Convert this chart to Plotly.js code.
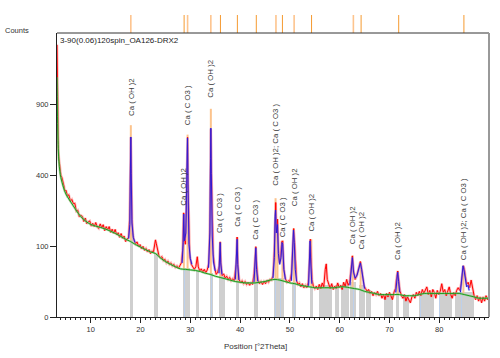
<!DOCTYPE html>
<html><head><meta charset="utf-8">
<script src="https://cdn.plot.ly/plotly-3.0.1.min.js"></script>
<style>html,body{margin:0;padding:0;background:#fff}#c{width:500px;height:358px}</style>
</head><body><div id="c"></div>
<script>
// ---------- observed counts (red) ----------
const obsX = [
3.22,3.27,3.33,3.40,3.50,3.60,3.70,3.80,3.90,4.00,
4.2,4.4,4.6,4.8,5.0,5.3,5.6,5.9,6.2,6.5,6.8,7.1,7.4,7.7,8.0,8.3,8.6,8.9,9.2,9.5,9.8,10.1,10.4,10.7,11.0,11.3,11.6,11.9,12.2,12.5,12.8,13.1,13.4,13.7,14.0,14.3,14.6,14.9,15.2,15.5,15.8,16.1,16.4,16.7,17.0,17.3,
17.6,17.8,17.95,18.05,18.15,18.3,18.5,18.7,19.0,19.3,19.6,19.9,20.2,20.5,20.8,21.1,21.4,21.7,22.0,22.3,22.6,22.85,23.0,23.15,23.4,23.7,24.0,24.3,24.6,24.9,25.2,25.5,25.8,26.1,26.4,26.7,27.0,27.3,27.6,27.9,28.2,
28.45,28.65,28.8,29.0,29.2,29.35,29.45,29.55,29.7,29.9,30.2,30.5,30.8,31.1,31.4,31.6,31.9,32.2,32.5,32.8,33.1,33.4,33.7,
33.9,34.05,34.12,34.25,34.4,34.6,34.9,35.2,35.5,35.8,36.0,36.15,36.4,36.7,37.0,37.3,37.6,37.9,38.2,38.5,38.8,39.2,39.4,39.55,39.8,40.1,40.4,40.7,41.0,41.3,41.6,41.9,42.2,42.5,42.8,43.15,43.35,43.6,43.9,44.2,44.5,44.8,45.1,45.4,45.7,46.0,46.3,46.6,
46.85,47.05,47.15,47.3,47.5,47.7,47.9,48.1,48.35,48.55,48.8,49.1,49.4,49.7,50.0,50.3,50.55,50.75,50.9,51.1,51.35,51.6,51.9,52.2,52.5,52.8,53.1,53.4,53.7,53.9,54.1,54.25,54.45,54.7,55.0,55.3,55.6,55.9,56.2,56.5,56.8,57.1,57.3,57.5,57.8,
58.1,58.4,58.7,59.0,59.3,59.6,59.9,60.2,60.5,60.8,61.1,61.4,61.7,62.0,62.3,62.55,62.8,63.1,63.4,63.7,63.95,64.15,64.35,64.6,64.9,65.2,65.5,65.8,66.1,66.4,66.7,67.0,67.3,67.6,67.9,68.2,68.5,68.8,69.1,69.4,69.7,70.0,70.3,70.6,70.9,71.2,71.45,71.65,71.85,72.1,
72.4,72.7,73.0,73.3,73.6,73.9,74.2,74.5,74.8,75.1,75.4,75.7,76.0,76.3,76.6,76.9,77.2,77.5,77.8,78.1,78.4,78.7,79.0,79.3,79.6,79.9,80.2,80.5,80.8,81.1,81.4,81.7,82.0,82.3,82.6,82.9,83.2,83.5,83.8,84.1,84.4,84.65,84.85,85.05,85.25,85.5,85.8,86.1,86.4,86.7,87.0,87.3,87.6,87.9,88.2,88.5,88.8,89.1,89.4,89.7,90.0];
const obsY = [
1470,1150,880,690,560,500,470,445,410,398,
386,352,342,315,320,292,296,266,274,255,256,222,226,199,205,201,181,194,173,180,183,164,174,162,177,161,156,172,158,169,148,162,151,162,142,153,139,152,134,141,126,138,123,130,113,121,
125,190,470,640,440,190,132,116,106,112,99,104,92,99,88,93,84,90,80,86,84,104,118,108,90,74,70,72,63,66,58,62,55,58,52,55,49,52,47,52,58,
88,215,125,105,250,560,640,350,130,72,55,49,45,50,72,50,42,46,40,45,39,44,58,
150,480,700,420,160,78,48,36,40,52,112,58,34,37,30,33,28,31,26,29,26,55,127,55,28,23,26,22,25,21,24,20,23,21,38,98,52,27,22,25,21,25,22,27,24,28,27,34,
85,235,260,150,190,90,58,68,112,115,45,29,24,26,25,38,110,155,125,52,26,21,23,18,22,17,20,17,24,58,120,70,28,19,16,19,15,21,16,23,18,45,56,28,20,
16,22,15,19,16,23,17,20,15,24,18,28,20,24,45,74,42,28,33,42,55,61,50,30,19,16,13,15,11,13,9,12,10,13,9,11,7,10,6,11,8,12,9,6,12,16,32,42,28,14,
9,7,10,5,8,6,4,8,10,7,12,9,13,9,15,11,14,18,10,14,8,15,12,7,14,10,13,22,12,15,9,13,18,10,7,12,9,14,17,14,22,38,52,45,30,21,24,17,27,14,9,6,9,5,8,4,8,5,9,6,8];

// ---------- calculated profile (blue), peak regions ----------
const calcX = [17.6,17.85,17.97,18.05,18.13,18.27,18.55,18.9,null,
28.35,28.57,28.68,28.82,29.1,29.32,29.43,29.54,29.72,30.0,30.3,null,
33.65,33.93,34.06,34.12,34.22,34.4,34.65,35.0,null,
35.75,35.93,36.0,36.1,36.35,null,
39.05,39.3,39.4,39.52,39.75,null,
42.8,43.0,43.15,43.3,43.55,null,
46.6,46.88,47.03,47.12,47.27,47.5,47.68,47.95,48.22,48.42,48.55,48.78,49.1,null,
50.3,50.52,50.72,50.88,51.08,51.35,null,
53.75,53.93,54.05,54.18,54.4,null,
62.05,62.35,62.55,62.78,63.1,63.5,63.9,64.15,64.4,64.7,65.0,null,
71.25,71.47,71.65,71.83,72.05,null,
84.25,84.52,84.77,85.0,85.2,85.5,85.8,86.0];
const calcY = [122,170,440,643,410,175,125,110,null,
58,110,210,115,140,500,636,330,105,68,55,null,
48,140,500,708,410,130,60,42,null,
38,90,110,58,36,null,
28,70,120,55,27,null,
24,60,95,45,25,null,
30,70,200,227,140,170,80,55,70,110,105,45,28,null,
26,70,150,110,45,25,null,
19,55,115,60,22,null,
20,40,70,40,30,35,50,58,45,25,16,null,
12,28,40,25,12,null,
12,30,52,42,28,18,20,14];

// ---------- background (green) ----------
const bkgX = [3.22,3.3,3.4,3.5,3.6,3.8,4.0,4.5,5,6,7,8,9,10,11,12,13,14,15,16,17,18,19,20,21,22,23,24,25,26,27,28,29,30,31,32,33,34,35,36,37,38,39,40,41,42,43,44,45,46,47,48,49,50,51,52,53,54,55,56,57,58,59,60,61,62,63,64,65,66,67,68,69,70,71,72,73,74,75,76,77,78,79,80,81,82,83,84,85,86,87,88,89,90];
const bkgY = [1140,850,650,540,480,420,385,335,300,262,228,200,182,170,164,159,153,146,138,129,120,113,104,97,90,84,80,69,61,55,50,46,45,44,43,41,38,36,33,31,29,27,25,24,23,23,23,24,25,27,28,27,25,23,22,20,19,18,17,17,17,17,17,18,18,17,16,15,13,12,11,10,10,10,10,10,9,9,9,10,11,11,11,11,11,11,11,11,10,9,8,7,7,7];

// ---------- peak sticks (orange) ----------
const pkX = [18.05,28.7,29.45,34.12,36.0,39.42,43.18,47.12,47.5,48.5,50.8,54.3,62.6,64.2,71.7,84.85];
const pkTop = [730,215,660,860,112,125,98,280,190,115,156,120,75,60,42,52];
const pkBase = [115,46,45,36,31,25,23,28,28,27,23,18,17,15,10,11];

// ---------- reference pattern bands (grey) ----------
const grayL = [17.91,22.79,28.51,31.18,33.86,35.67,39.23,42.85,46.73,50.43,53.97,55.87,59.08,60.29,62.16,63.83,65.38,68.86,71.22,72.76,75.90,79.93,83.14];
const grayR = [18.45,23.48,29.84,31.79,34.54,37.02,39.83,43.51,48.74,51.24,54.66,58.48,59.81,61.82,63.37,65.18,66.19,70.75,71.88,73.89,78.92,82.62,86.97];
const grayH = [140,82,48,44,38,33,26,25,30,25,18,20,20,20,25,20,14,10,14,10,11,11,12];
const lbX = [28.8,29.3,34.2,47.07,48.08,50.9,62.83,69.34,69.87,71.55,76.24,80.06,83.75,84.43];
const lbH = [48,48,38,30,30,25,25,10,10,14,11,11,12,12];

// ---------- top strip sticks ----------
const stripX = [18.05,28.75,29.45,34.12,36.05,39.45,43.25,47.2,48.5,50.85,54.35,62.75,64.3,71.85,84.95];
const stripShade = ['light','dark','light','light','dark','dark','dark','light','dark','light','dark','light','dark','dark','dark'];

// ---------- labels ----------
const labX = [18.05,28.7,29.45,34.12,36.0,39.42,43.18,47.12,48.5,50.8,54.3,62.6,64.2,71.7,84.85];
const labText = ['Ca ( OH )2','Ca ( OH )2','Ca ( C O3 )','Ca ( OH )2','Ca ( C O3 )','Ca ( C O3 )','Ca ( C O3 )','Ca ( OH )2; Ca ( C O3 )','Ca ( C O3 )','Ca ( OH )2','Ca ( OH )2','Ca ( OH )2','Ca ( OH )2','Ca ( OH )2','Ca ( OH )2; Ca ( C O3 )'];
const labTop = [730,215,660,860,112,125,98,280,115,156,120,75,60,42,52];
const labGap = [7,5,7,9,7,9,5,10,2,20,6,9,10,9,4];

const yTickVals = [0,100,400,900];

// ---------- build ----------
const S = v => (v === null ? null : Math.sqrt(Math.max(0, v)));
const FONT = 'Liberation Sans, Arial, sans-serif';
const mainTop = 284/302;

const traces = [];
traces.push({type:'bar', x: grayL.map((l,i)=>(l+grayR[i])/2), y: grayH.map(S),
  width: grayL.map((l,i)=>grayR[i]-l), marker:{color:'#CFCFCF', line:{width:0}}, hoverinfo:'skip'});
traces.push({type:'bar', x: lbX, y: lbH.map(S), width: 0.12,
  marker:{color:'#BDD0EA', line:{width:0}}, hoverinfo:'skip'});

const sx = [], sy = [];
pkX.forEach((p,i)=>{ sx.push(p,p,null); sy.push(S(pkBase[i]), S(pkTop[i]), null); });
traces.push({type:'scatter', mode:'lines', x:sx, y:sy, line:{color:'#FCC38C', width:2}, hoverinfo:'skip'});

traces.push({type:'scatter', mode:'lines', x:obsX, y:obsY.map(S), line:{color:'rgba(255,120,120,0.5)', width:2.6}, hoverinfo:'skip'});
traces.push({type:'scatter', mode:'lines', x:obsX, y:obsY.map(S), line:{color:'#FF0000', width:1}, hoverinfo:'skip'});
traces.push({type:'scatter', mode:'lines', x:calcX, y:calcY.map(S), connectgaps:false, line:{color:'rgba(150,150,255,0.6)', width:2.2}, hoverinfo:'skip'});
traces.push({type:'scatter', mode:'lines', x:calcX, y:calcY.map(S), connectgaps:false, line:{color:'#3318d0', width:1}, hoverinfo:'skip'});
traces.push({type:'scatter', mode:'lines', x:bkgX, y:bkgY.map(S), line:{color:'rgba(130,210,130,0.6)', width:2.2, shape:'spline'}, hoverinfo:'skip'});
traces.push({type:'scatter', mode:'lines', x:bkgX, y:bkgY.map(S), line:{color:'#1f9a1f', width:1, shape:'spline'}, hoverinfo:'skip'});

['light','dark'].forEach(sh=>{
  const xx=[], yy=[];
  stripX.forEach((p,i)=>{ if(stripShade[i]===sh){ xx.push(p,p,null); yy.push(0,1,null);} });
  traces.push({type:'scatter', mode:'lines', x:xx, y:yy, yaxis:'y2',
    line:{color: sh==='light' ? '#FDC48E' : '#F59A30', width: sh==='light' ? 1.6 : 1}, hoverinfo:'skip'});
});

const ann = labX.map((x,i)=>({x:x, y:S(labTop[i]), xref:'x', yref:'y', text:labText[i], textangle:-90,
  showarrow:false, xanchor:'center', yanchor:'bottom', yshift:labGap[i],
  font:{family:FONT, size:7.8, color:'#3a3a3a'}}));
ann.push({xref:'paper', yref:'paper', x:0.003, y:mainTop, xanchor:'left', yanchor:'top', yshift:-1,
  text:'3-90(0.06)120spin_OA126-DRX2', showarrow:false, font:{family:FONT, size:8, color:'#222'}});
ann.push({xref:'paper', yref:'paper', x:(255-57)/432, y:-29/302, xanchor:'center', yanchor:'middle',
  text:'Position [°2Theta]', showarrow:false, font:{family:FONT, size:8, color:'#333'}});
ann.push({xref:'paper', yref:'paper', x:(17-57)/432, y:(317-30)/302, xanchor:'center', yanchor:'middle',
  text:'Counts', showarrow:false, font:{family:FONT, size:7.5, color:'#333'}});

const layout = {
  width:500, height:358, autosize:false, showlegend:false,
  margin:{l:57, r:11, t:15, b:41, pad:0},
  paper_bgcolor:'#fff', plot_bgcolor:'#fff', barmode:'overlay', bargap:0,
  font:{family:FONT, size:8, color:'#333'},
  xaxis:{range:[3.22,89.99], anchor:'y', showgrid:false, zeroline:false, showline:true, linecolor:'#222', linewidth:1,
    ticks:'outside', ticklen:5, tickcolor:'#222', tick0:0, dtick:10, tickfont:{family:FONT, size:7.5, color:'#333'},
    minor:{dtick:1, ticks:'outside', ticklen:2, tickcolor:'#222'}},
  yaxis:{domain:[0, mainTop], range:[0,40], showgrid:false, zeroline:false, showline:true, linecolor:'#222', linewidth:1,
    ticks:'outside', ticklen:6, tickcolor:'#222', tickvals:yTickVals.map(S), ticktext:yTickVals.map(String),
    tickfont:{family:FONT, size:7.5, color:'#333'}},
  yaxis2:{domain:[mainTop,1], range:[0,1], visible:false, anchor:'x'},
  shapes:[
    {type:'line', xref:'paper', yref:'paper', x0:0, x1:1, y0:mainTop, y1:mainTop, line:{color:'#333', width:1}},
    {type:'line', xref:'paper', yref:'paper', x0:1, x1:1, y0:0, y1:mainTop, line:{color:'#999', width:2}}
  ],
  annotations:ann
};
Plotly.newPlot('c', traces, layout, {displayModeBar:false, staticPlot:true});
</script></body></html>
